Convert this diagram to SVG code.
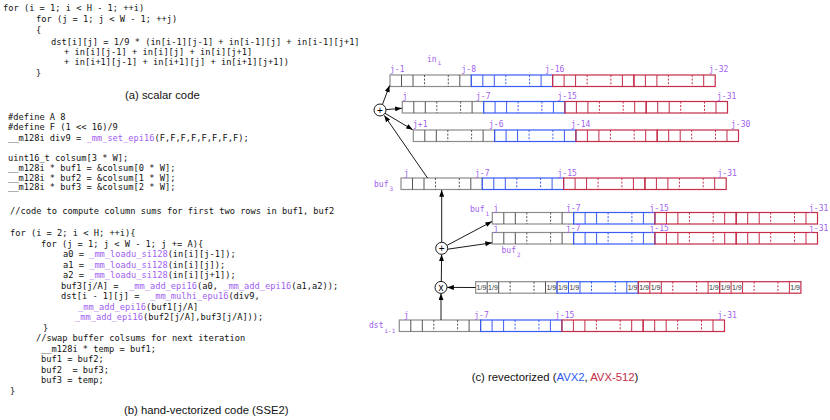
<svg xmlns="http://www.w3.org/2000/svg" xmlns:xlink="http://www.w3.org/1999/xlink" width="830" height="420" viewBox="0 0 830 420">
<style>
.code{font-family:"DejaVu Sans Mono","Liberation Mono",monospace;font-size:8.7px;fill:#111;white-space:pre}
.fn{fill:#a060f0}
.cap{font-family:"Liberation Sans",Arial,sans-serif;font-size:11.3px;fill:#111}
.lbl{font-family:"DejaVu Sans Mono","Liberation Mono",monospace;font-size:8px;fill:#a060f0}
.sub{font-size:6px}
.nine{font-family:"Liberation Sans",Arial,sans-serif;font-size:7px;fill:#333;text-anchor:middle}
.conn{stroke:#000;stroke-width:0.9;fill:none;marker-end:url(#ah)}
.op{fill:#fff;stroke:#000;stroke-width:0.9}
.optx{font-family:"Liberation Sans",Arial,sans-serif;font-size:10px;fill:#000;text-anchor:middle}
.dash{stroke-dasharray:2 1.6}
</style>
<defs>
<marker id="ah" viewBox="0 0 8 6" refX="8" refY="3" markerWidth="7" markerHeight="5" orient="auto" markerUnits="userSpaceOnUse"><path d="M0 0L8 3L0 6z" fill="#000"/></marker>
<g id="g8gray">
<rect width="81.3" height="11.5" fill="none" stroke="#8c8c8c" stroke-width="1.2"/>
<path d="M11.5 0V11.5M23 0V11.5M69.8 0V11.5" stroke="#555" stroke-width="1"/>
<path d="M34.5 0V11.5M58.3 0V11.5" stroke="#555" stroke-width="1" class="dash"/>
</g>
<g id="g8blue">
<rect width="81.3" height="11.5" fill="none" stroke="#3a5cf2" stroke-width="1.2"/>
<path d="M11.5 0V11.5M23 0V11.5M69.8 0V11.5" stroke="#3a5cf2" stroke-width="1"/>
<path d="M34.5 0V11.5M58.3 0V11.5" stroke="#3a5cf2" stroke-width="1" class="dash"/>
</g>
<g id="g8red">
<rect width="81.3" height="11.5" fill="none" stroke="#c42c48" stroke-width="1.2"/>
<path d="M11.5 0V11.5M23 0V11.5M69.8 0V11.5" stroke="#c42c48" stroke-width="1"/>
<path d="M34.5 0V11.5M58.3 0V11.5" stroke="#c42c48" stroke-width="1" class="dash"/>
</g>
<g id="row32">
<use href="#g8gray" x="0"/>
<use href="#g8blue" x="81.3"/>
<use href="#g8red" x="162.6"/>
<use href="#g8red" x="243.9"/>
</g>
</defs>

<g id="scalar-code" xml:space="preserve">
<text class="code" x="3" y="11">for (i = 1; i &lt; H - 1; ++i)</text>
<text class="code" x="36" y="22">for (j = 1; j &lt; W - 1; ++j)</text>
<text class="code" x="36" y="33">{</text>
<text class="code" x="51" y="45">dst[i][j] = 1/9 * (in[i-1][j-1] + in[i-1][j] + in[i-1][j+1]</text>
<text class="code" x="64" y="55">+ in[i][j-1] + in[i][j] + in[i][j+1]</text>
<text class="code" x="64" y="65">+ in[i+1][j-1] + in[i+1][j] + in[i+1][j+1])</text>
<text class="code" x="36" y="75.5">}</text>
<text class="cap" x="125" y="99">(a) scalar code</text>
</g>

<g id="sse2-code" xml:space="preserve">
<text class="code" x="8" y="120">#define A 8</text>
<text class="code" x="8" y="130">#define F (1 &lt;&lt; 16)/9</text>
<text class="code" x="8" y="140.5">__m128i div9 = <tspan class="fn">_mm_set_epi16</tspan>(F,F,F,F,F,F,F,F);</text>
<text class="code" x="8" y="160.5">uint16_t colsum[3 * W];</text>
<text class="code" x="8" y="170.5">__m128i * buf1 = &amp;colsum[0 * W];</text>
<text class="code" x="8" y="180.5">__m128i * buf2 = &amp;colsum[1 * W];</text>
<text class="code" x="8" y="190">__m128i * buf3 = &amp;colsum[2 * W];</text>
<text class="code" x="10" y="214">//code to compute column sums for first two rows in buf1, buf2</text>
<text class="code" x="10" y="235.5">for (i = 2; i &lt; H; ++i){</text>
<text class="code" x="41" y="246.5">for (j = 1; j &lt; W - 1; j += A){</text>
<text class="code" x="63" y="257">a0 = <tspan class="fn">_mm_loadu_si128</tspan>(in[i][j-1]);</text>
<text class="code" x="63" y="267.5">a1 = <tspan class="fn">_mm_loadu_si128</tspan>(in[i][j]);</text>
<text class="code" x="63" y="278">a2 = <tspan class="fn">_mm_loadu_si128</tspan>(in[i][j+1]);</text>
<text class="code" x="61" y="288.5">buf3[j/A] =  <tspan class="fn">_mm_add_epi16</tspan>(a0, <tspan class="fn">_mm_add_epi16</tspan>(a1,a2));</text>
<text class="code" x="61" y="299">dst[i - 1][j] =  <tspan class="fn">_mm_mulhi_epu16</tspan>(div9,</text>
<text class="code" x="78" y="309.5"><tspan class="fn">_mm_add_epi16</tspan>(buf1[j/A]</text>
<text class="code" x="75" y="320"><tspan class="fn">_mm_add_epi16</tspan>(buf2[j/A],buf3[j/A]));</text>
<text class="code" x="43" y="330.5">}</text>
<text class="code" x="36" y="341">//swap buffer colsums for next iteration</text>
<text class="code" x="41" y="351.5">__m128i * temp = buf1;</text>
<text class="code" x="41" y="362">buf1 = buf2;</text>
<text class="code" x="41" y="372.5">buf2  = buf3;</text>
<text class="code" x="41" y="383">buf3 = temp;</text>
<text class="code" x="10" y="393.5">}</text>
<text class="cap" x="124" y="414">(b) hand-vectorized code (SSE2)</text>
</g>

<g id="row-in-jm1">
<use href="#row32" x="390" y="75"/>
<text class="lbl" x="427" y="62">in<tspan class="sub" dx="1" dy="3">i</tspan></text>
<text class="lbl" x="390" y="72">j-1</text>
<text class="lbl" x="461.5" y="72">j-8</text>
<text class="lbl" x="545" y="72">j-16</text>
<text class="lbl" x="709" y="72">j-32</text>
</g>
<g id="row-in-j">
<use href="#row32" x="402.3" y="101.5"/>
<text class="lbl" x="402.5" y="98.5">j</text>
<text class="lbl" x="476" y="98.5">j-7</text>
<text class="lbl" x="557.5" y="98.5">j-15</text>
<text class="lbl" x="717" y="98.5">j-31</text>
</g>
<g id="row-in-jp1">
<use href="#row32" x="413.3" y="130"/>
<text class="lbl" x="413" y="127">j+1</text>
<text class="lbl" x="489" y="127">j-6</text>
<text class="lbl" x="571" y="127">j-14</text>
<text class="lbl" x="731" y="127">j-30</text>
</g>
<g id="row-buf3">
<use href="#row32" x="401" y="178"/>
<text class="lbl" x="374" y="187">buf<tspan class="sub" dx="1" dy="4">3</tspan></text>
<text class="lbl" x="404" y="175.5">j</text>
<text class="lbl" x="475" y="175.5">j-7</text>
<text class="lbl" x="557.5" y="175.5">j-15</text>
<text class="lbl" x="717.5" y="175.5">j-31</text>
</g>
<g id="row-buf1">
<use href="#row32" x="492.3" y="212.5"/>
<text class="lbl" x="470" y="212">buf<tspan class="sub" dx="1" dy="4">1</tspan></text>
<text class="lbl" x="493.5" y="210.5">j</text>
<text class="lbl" x="566" y="210.5">j-7</text>
<text class="lbl" x="649.5" y="210.5">j-15</text>
<text class="lbl" x="809" y="210.5">j-31</text>
</g>
<g id="row-buf2">
<use href="#row32" x="492.3" y="232.5"/>
<text class="lbl" x="501.5" y="253">buf<tspan class="sub" dx="1" dy="4">2</tspan></text>
<text class="lbl" x="493.5" y="231">j</text>
<text class="lbl" x="566" y="231">j-7</text>
<text class="lbl" x="649.5" y="231">j-15</text>
<text class="lbl" x="809" y="231">j-31</text>
</g>
<g id="row-div9">
<use href="#row32" x="475.7" y="281.7"/>
<text class="nine" x="481.45" y="290">1/9</text>
<text class="nine" x="492.95" y="290">1/9</text>
<text class="nine" x="551.25" y="290">1/9</text>
<text class="nine" x="562.75" y="290">1/9</text>
<text class="nine" x="574.25" y="290">1/9</text>
<text class="nine" x="632.55" y="290">1/9</text>
<text class="nine" x="644.05" y="290">1/9</text>
<text class="nine" x="655.55" y="290">1/9</text>
<text class="nine" x="713.85" y="290">1/9</text>
<text class="nine" x="725.35" y="290">1/9</text>
<text class="nine" x="736.85" y="290">1/9</text>
<text class="nine" x="795.15" y="290">1/9</text>
</g>
<g id="row-dst">
<use href="#row32" x="399.3" y="320"/>
<text class="lbl" x="369" y="328">dst<tspan class="sub" dx="1" dy="5">i-1</tspan></text>
<text class="lbl" x="404" y="317.5">j</text>
<text class="lbl" x="474.3" y="317.5">j-7</text>
<text class="lbl" x="555" y="317.5">j-15</text>
<text class="lbl" x="717.5" y="317.5">j-31</text>
</g>

<g id="connectors">
<path class="conn" d="M382.5 104.3L389.6 85.5"/>
<path class="conn" d="M386.2 109.6L401.8 108.3"/>
<path class="conn" d="M385 113.3L412.8 129.8"/>
<path class="conn" d="M427.5 178L384.3 115.4"/>
<path class="conn" d="M441.7 242.3L441.7 190"/>
<path class="conn" d="M447.3 245.2L492 221.5"/>
<path class="conn" d="M447.6 249.2L492 242.8"/>
<path class="conn" d="M441.3 281.3L441.6 254.5"/>
<path class="conn" d="M475.5 287.5L447.2 287.4"/>
<path class="conn" d="M441 320L441 293.5"/>
</g>

<g id="op-add-top">
<circle class="op" cx="380" cy="110" r="6"/>
<text class="optx" x="380" y="113.5">+</text>
</g>
<g id="op-add-mid">
<circle class="op" cx="441.7" cy="248.3" r="6"/>
<text class="optx" x="441.7" y="251.8">+</text>
</g>
<g id="op-mul">
<circle class="op" cx="441" cy="287.4" r="6"/>
<text class="optx" x="441" y="290.6">x</text>
</g>

<g id="caption-c">
<text class="cap" x="471.7" y="380.5">(c) revectorized (<tspan fill="#2f5bf0">AVX2</tspan>, <tspan fill="#c42c48">AVX-512</tspan>)</text>
</g>
</svg>
